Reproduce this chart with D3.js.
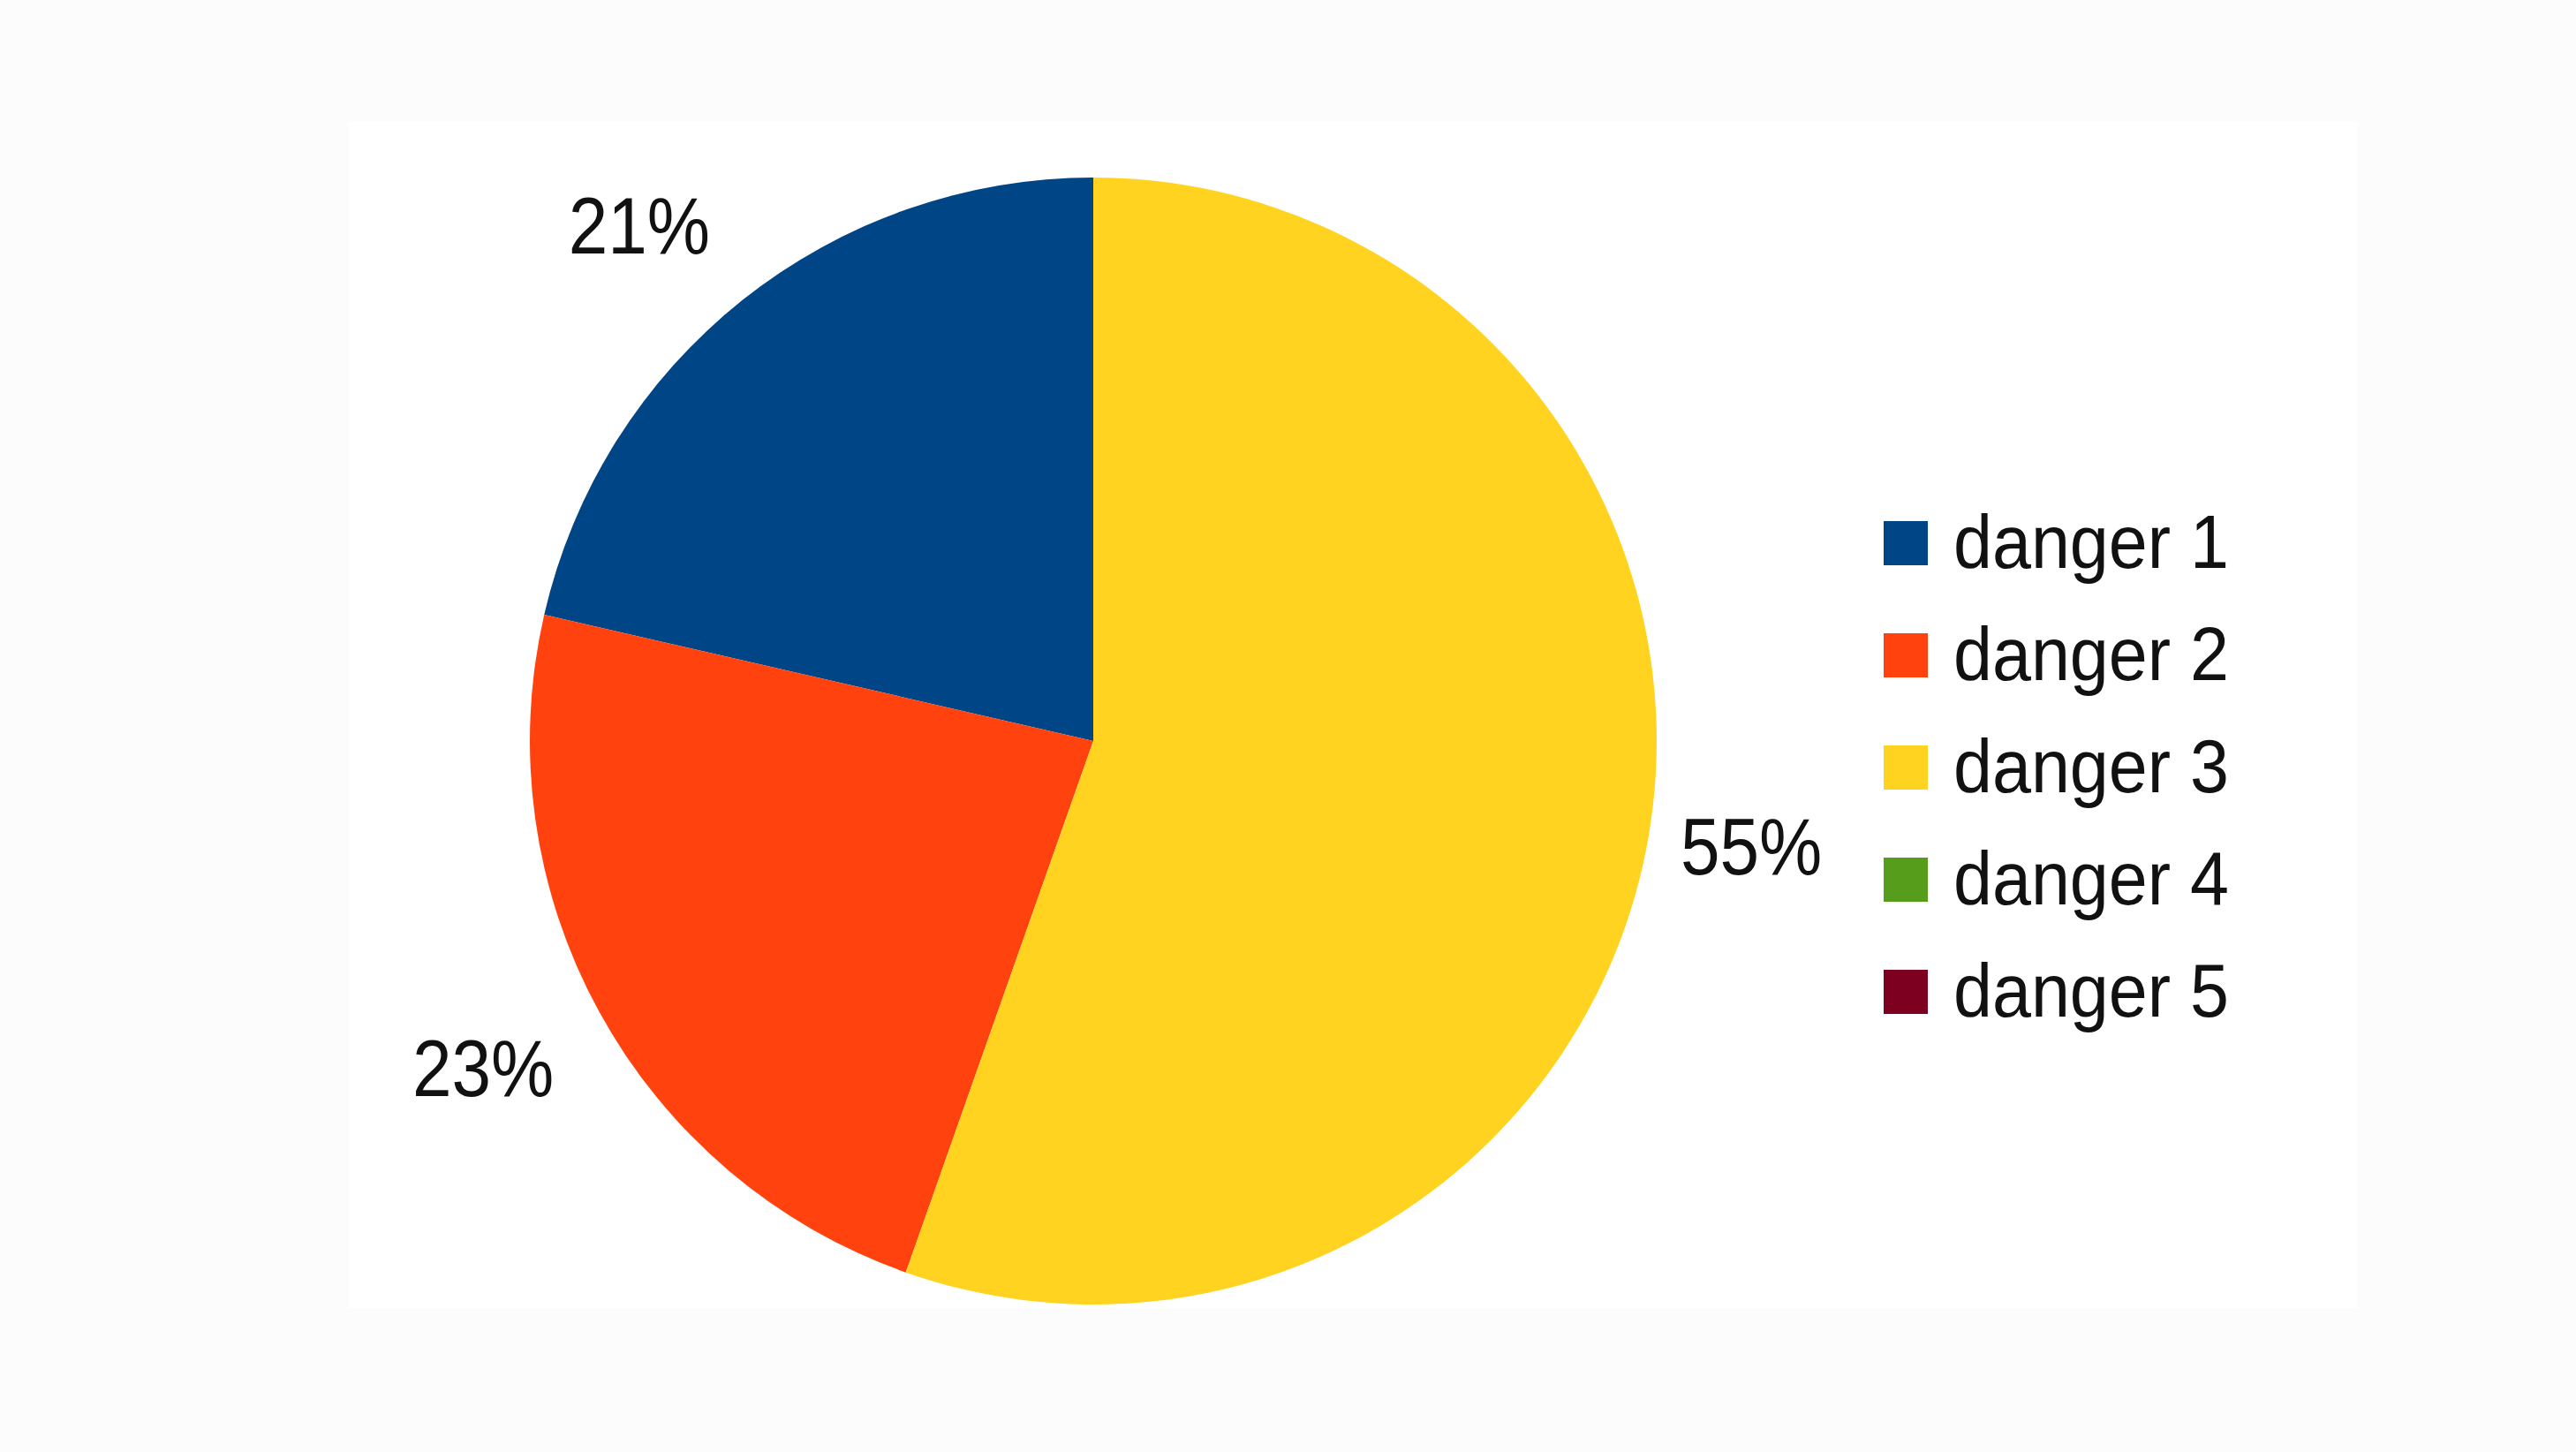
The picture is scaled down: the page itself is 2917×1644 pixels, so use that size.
<!DOCTYPE html>
<html>
<head>
<meta charset="utf-8">
<script src="https://cdn.jsdelivr.net/npm/d3@7"></script>
<style>
  html, body { margin: 0; padding: 0; background: #fcfcfc; }
  svg { display: block; }
</style>
</head>
<body>
<script>
// ---- data ----
const categories = ["danger 1", "danger 2", "danger 3", "danger 4", "danger 5"];
const values = [21.4, 23.2, 55.4, 0, 0];
const colors = ["#004586", "#ff420e", "#ffd320", "#579d1c", "#7e0021"];

// ---- layout ----
const W = 2917, H = 1644;
const cx = 1238, cy = 839, R = 638;
const labelD = 697;
const digitH = 66;
const fontFamily = "'Liberation Sans', Arial, sans-serif";

const svg = d3.select("body").append("svg")
  .attr("width", W).attr("height", H);

svg.append("rect").attr("x", 0).attr("y", 0).attr("width", W).attr("height", H).attr("fill", "#fcfcfc");
svg.append("rect").attr("x", 394).attr("y", 137).attr("width", 2276).attr("height", 1344).attr("fill", "#ffffff");

const color = d3.scaleOrdinal().domain(categories).range(colors);

const pie = d3.pie().sort(null).value(d => d.value)
  .startAngle(0).endAngle(-2 * Math.PI);
const data = categories.map((c, i) => ({ cat: c, value: values[i] }));
const arcs = pie(data);
const total = d3.sum(values);

const arc = d3.arc().innerRadius(0).outerRadius(R);
const labelArc = d3.arc().innerRadius(labelD).outerRadius(labelD);

const g = svg.append("g").attr("transform", `translate(${cx},${cy})`);

g.selectAll("path.slice")
  .data(arcs.filter(d => d.data.value > 0))
  .join("path")
  .attr("class", "slice")
  .attr("d", arc)
  .attr("fill", d => color(d.data.cat));

const fmt = v => Math.round(v / total * 100) + "%";

const lbls = g.selectAll("g.lbl")
  .data(arcs.filter(d => d.data.value > 0))
  .join("g")
  .attr("class", "lbl")
  .attr("transform", d => {
    let [x, y] = labelArc.centroid(d);
    const uy = y / labelD;
    let by;
    if (uy > 0.3) by = y + digitH;             // box hangs below anchor
    else if (uy < -0.3) by = y - 7;            // box sits above anchor
    else { by = y + digitH / 2; x -= Math.sign(x) * 22; } // centred vertically
    return `translate(${x},${by}) scale(0.88,1)`;
  });
lbls.append("text")
  .attr("text-anchor", d => labelArc.centroid(d)[0] < 0 ? "end" : "start")
  .attr("font-family", fontFamily)
  .attr("font-size", 91)
  .attr("fill", "#111111")
  .text(d => fmt(d.data.value));

// ---- legend ----
const ly = d3.scalePoint().domain(categories).range([615, 1123]);
const legend = svg.append("g");
const items = legend.selectAll("g.item").data(categories).join("g").attr("class", "item");
items.append("rect")
  .attr("x", 2133)
  .attr("y", d => ly(d) - 25)
  .attr("width", 50).attr("height", 50)
  .attr("fill", d => color(d));
items.append("g")
  .attr("transform", d => `translate(2212,${ly(d) + 28}) scale(0.93,1)`)
  .append("text")
  .attr("font-family", fontFamily)
  .attr("font-size", 85)
  .attr("fill", "#111111")
  .text(d => d);
</script>
</body>
</html>
